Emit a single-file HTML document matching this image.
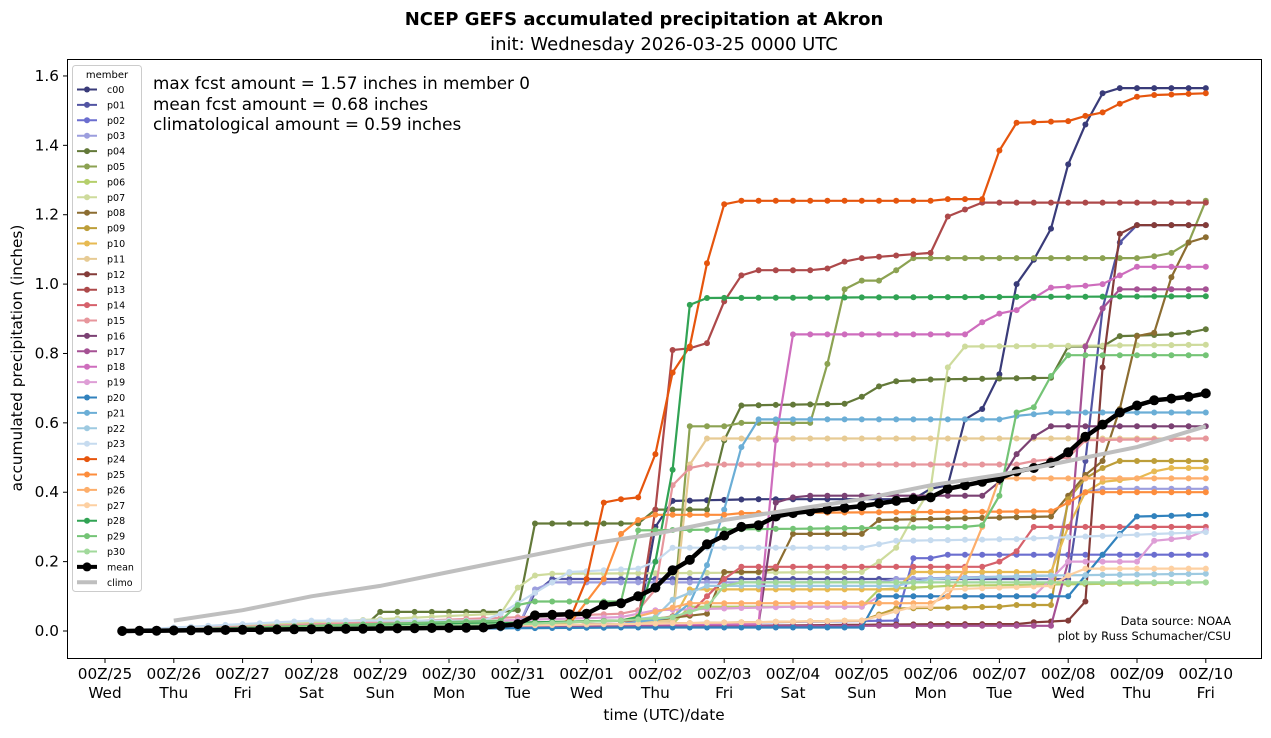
<!DOCTYPE html>
<html><head><meta charset="utf-8"><style>
html,body{margin:0;padding:0;background:#fff;}
svg text{font-family:"DejaVu Sans","Liberation Sans",sans-serif;fill:#000;}
</style></head><body>
<svg id="s" width="1271" height="733" viewBox="0 0 1271 733" xmlns="http://www.w3.org/2000/svg">
<rect width="1271" height="733" fill="#fff"/>
<text x="644" y="25" font-size="18" font-weight="bold" text-anchor="middle">NCEP GEFS accumulated precipitation at Akron</text>
<text x="664" y="50" font-size="18" text-anchor="middle">init: Wednesday 2026-03-25 0000 UTC</text>
<g id="plot"></g>
<rect x="67.5" y="59.5" width="1194" height="599" fill="none" stroke="#000" stroke-width="1"/>
<g id="ticks" font-size="15.3"></g>
<text x="664" y="720" font-size="15.3" text-anchor="middle">time (UTC)/date</text>
<text transform="translate(22,358) rotate(-90)" font-size="15.3" text-anchor="middle">accumulated precipitation (inches)</text>
<text x="153" y="89" font-size="16.8">max fcst amount = 1.57 inches in member 0</text>
<text x="153" y="110" font-size="16.8">mean fcst amount = 0.68 inches</text>
<text x="153" y="130" font-size="16.8">climatological amount = 0.59 inches</text>
<text x="1231" y="625" font-size="11.5" text-anchor="end">Data source: NOAA</text>
<text x="1231" y="640" font-size="11.5" text-anchor="end">plot by Russ Schumacher/CSU</text>
<g id="leg"></g>
</svg>
<script>
var NS="http://www.w3.org/2000/svg";
function el(p,t,a,txt){var e=document.createElementNS(NS,t);for(var k in a)e.setAttribute(k,a[k]);if(txt!==undefined)e.textContent=txt;p.appendChild(e);return e;}
function X(i){return 105+17.2*i;}
function Y(v){return 631-v*346.9;}
function expand(kp){var out=[];for(var i=1;i<=64;i++){var v;if(i<=kp[0][0])v=kp[0][1];else if(i>=kp[kp.length-1][0])v=kp[kp.length-1][1];else{for(var j=0;j<kp.length-1;j++){if(i>=kp[j][0]&&i<=kp[j+1][0]){var a=kp[j],b=kp[j+1];v=a[1]+(b[1]-a[1])*(i-a[0])/(b[0]-a[0]);break;}}}out.push([i,v]);}return out;}
var S=[
["c00","#393b79",[[1,0],[24,0.01],[31,0.02],[32,0.30],[33,0.375],[38,0.38],[47,0.38],[48,0.41],[49,0.42],[50,0.61],[51,0.64],[52,0.74],[53,1.0],[54,1.07],[55,1.16],[56,1.345],[57,1.46],[58,1.55],[59,1.565],[64,1.565]]],
["p01","#5254a3",[[1,0],[24,0.01],[25,0.11],[26,0.15],[56,0.15],[57,0.49],[58,0.93],[59,1.12],[60,1.17],[64,1.17]]],
["p02","#6b6ecf",[[1,0],[30,0.02],[46,0.03],[47,0.21],[48,0.21],[49,0.22],[64,0.22]]],
["p03","#9c9ede",[[1,0],[24,0.01],[25,0.12],[26,0.14],[45,0.14],[46,0.15],[55,0.16],[56,0.37],[57,0.40],[58,0.41],[64,0.41]]],
["p04","#637939",[[1,0],[8,0.01],[15,0.01],[16,0.055],[23,0.055],[24,0.06],[25,0.31],[31,0.31],[32,0.35],[35,0.35],[36,0.55],[37,0.65],[43,0.655],[44,0.675],[45,0.705],[46,0.72],[48,0.725],[55,0.73],[56,0.82],[58,0.82],[59,0.85],[62,0.855],[63,0.86],[64,0.87]]],
["p05","#8ca252",[[1,0],[30,0.03],[33,0.03],[34,0.59],[36,0.59],[37,0.6],[41,0.6],[42,0.77],[43,0.985],[44,1.01],[45,1.01],[46,1.04],[47,1.075],[60,1.075],[61,1.08],[62,1.09],[63,1.12],[64,1.24]]],
["p06","#b5cf6b",[[1,0],[30,0.02],[33,0.02],[34,0.07],[44,0.07],[45,0.12],[49,0.13],[64,0.14]]],
["p07","#cedb9c",[[1,0],[23,0.05],[24,0.125],[25,0.16],[26,0.165],[44,0.17],[45,0.2],[46,0.24],[47,0.33],[48,0.41],[49,0.76],[50,0.82],[64,0.825]]],
["p08","#8c6d31",[[1,0],[30,0.02],[35,0.05],[36,0.17],[38,0.17],[39,0.18],[40,0.28],[44,0.28],[45,0.32],[55,0.33],[56,0.39],[57,0.45],[58,0.49],[59,0.64],[60,0.85],[61,0.86],[62,1.02],[63,1.12],[64,1.135]]],
["p09","#bd9e39",[[1,0],[30,0.02],[44,0.03],[46,0.065],[52,0.07],[53,0.075],[55,0.075],[56,0.38],[57,0.44],[58,0.47],[59,0.49],[64,0.49]]],
["p10","#e7ba52",[[1,0],[30,0.02],[33,0.03],[34,0.12],[46,0.12],[47,0.17],[55,0.17],[56,0.3],[57,0.4],[58,0.43],[60,0.44],[61,0.46],[62,0.47],[64,0.47]]],
["p11","#e7cb94",[[1,0],[30,0.02],[33,0.03],[34,0.48],[35,0.555],[64,0.555]]],
["p12","#843c39",[[1,0],[49,0.02],[53,0.02],[54,0.025],[56,0.03],[57,0.085],[58,0.76],[59,1.145],[60,1.17],[64,1.17]]],
["p13","#ad494a",[[1,0],[31,0.03],[32,0.35],[33,0.81],[34,0.815],[35,0.83],[36,0.95],[37,1.025],[38,1.04],[41,1.04],[42,1.045],[43,1.065],[44,1.075],[48,1.09],[49,1.195],[50,1.215],[51,1.235],[64,1.235]]],
["p14","#d6616b",[[1,0],[30,0.02],[34,0.05],[36,0.15],[37,0.185],[51,0.185],[52,0.2],[53,0.23],[54,0.3],[64,0.3]]],
["p15","#e7969c",[[1,0],[30,0.05],[31,0.06],[32,0.12],[33,0.42],[34,0.47],[35,0.48],[53,0.48],[54,0.49],[56,0.5],[57,0.55],[64,0.555]]],
["p16","#7b4173",[[1,0],[38,0.02],[39,0.37],[40,0.385],[41,0.39],[51,0.39],[52,0.43],[53,0.51],[54,0.56],[55,0.59],[64,0.59]]],
["p17","#a55194",[[1,0],[30,0.015],[55,0.015],[56,0.2],[57,0.82],[58,0.93],[59,0.985],[64,0.985]]],
["p18","#ce6dbd",[[1,0],[30,0.02],[38,0.02],[39,0.55],[40,0.855],[50,0.855],[51,0.89],[52,0.915],[53,0.925],[54,0.96],[55,0.99],[57,0.995],[58,1.0],[59,1.025],[60,1.05],[64,1.05]]],
["p19","#de9ed6",[[1,0],[30,0.04],[32,0.06],[40,0.07],[44,0.07],[45,0.1],[54,0.1],[56,0.2],[60,0.2],[61,0.26],[63,0.27],[64,0.29]]],
["p20","#3182bd",[[1,0],[30,0.01],[44,0.01],[45,0.1],[56,0.1],[57,0.16],[58,0.22],[59,0.28],[60,0.33],[64,0.335]]],
["p21","#6baed6",[[1,0],[30,0.02],[33,0.04],[34,0.08],[35,0.19],[36,0.35],[37,0.53],[38,0.61],[52,0.61],[53,0.62],[55,0.63],[64,0.63]]],
["p22","#9ecae1",[[1,0],[30,0.03],[32,0.04],[33,0.09],[34,0.11],[35,0.13],[46,0.13],[48,0.15],[55,0.16],[64,0.165]]],
["p23","#c6dbef",[[1,0],[4,0.01],[12,0.03],[22,0.03],[23,0.05],[27,0.17],[31,0.18],[32,0.2],[33,0.24],[44,0.24],[45,0.25],[46,0.26],[53,0.265],[64,0.285]]],
["p24","#e6550d",[[1,0],[26,0.02],[27,0.03],[28,0.15],[29,0.37],[30,0.38],[31,0.385],[32,0.51],[33,0.745],[34,0.82],[35,1.06],[36,1.23],[37,1.24],[48,1.24],[49,1.245],[51,1.245],[52,1.385],[53,1.465],[56,1.47],[57,1.485],[58,1.495],[59,1.52],[60,1.54],[61,1.545],[64,1.55]]],
["p25","#fd8d3c",[[1,0],[27,0.02],[29,0.15],[30,0.28],[31,0.32],[32,0.335],[36,0.335],[37,0.34],[55,0.345],[56,0.37],[57,0.4],[64,0.4]]],
["p26","#fdae6b",[[1,0],[30,0.03],[34,0.08],[48,0.08],[49,0.1],[50,0.18],[51,0.3],[52,0.44],[64,0.44]]],
["p27","#fdd0a2",[[1,0],[30,0.02],[44,0.03],[47,0.07],[48,0.07],[49,0.12],[55,0.13],[56,0.16],[57,0.18],[64,0.18]]],
["p28","#31a354",[[1,0],[30,0.03],[31,0.04],[32,0.2],[33,0.465],[34,0.94],[35,0.96],[64,0.965]]],
["p29","#74c476",[[1,0],[23,0.03],[24,0.075],[25,0.085],[30,0.085],[31,0.29],[50,0.3],[51,0.305],[52,0.39],[53,0.63],[54,0.645],[55,0.735],[56,0.795],[64,0.795]]],
["p30","#a1d99b",[[1,0],[24,0.02],[30,0.03],[33,0.04],[35,0.07],[36,0.13],[37,0.14],[64,0.14]]]
];
var plot=document.getElementById("plot");
S.forEach(function(s){var pts=expand(s[2]);var d=pts.map(function(p,k){return (k?"L":"M")+X(p[0]).toFixed(1)+" "+Y(p[1]).toFixed(1);}).join("");
el(plot,"path",{d:d,fill:"none",stroke:s[1],"stroke-width":2.2});
pts.forEach(function(p){el(plot,"circle",{cx:X(p[0]).toFixed(1),cy:Y(p[1]).toFixed(1),r:3,fill:s[1]});});});
var mean=[[1,0],[22,0.01],[24,0.02],[25,0.045],[28,0.05],[29,0.075],[30,0.08],[31,0.10],[32,0.125],[33,0.175],[34,0.205],[35,0.25],[36,0.275],[37,0.30],[38,0.305],[39,0.33],[40,0.34],[42,0.35],[44,0.36],[46,0.375],[48,0.385],[49,0.41],[50,0.42],[52,0.44],[53,0.46],[54,0.47],[55,0.485],[56,0.515],[57,0.56],[58,0.595],[59,0.63],[60,0.65],[61,0.665],[62,0.67],[63,0.675],[64,0.685]];
var mp=expand(mean);
el(plot,"path",{d:mp.map(function(p,k){return (k?"L":"M")+X(p[0]).toFixed(1)+" "+Y(p[1]).toFixed(1);}).join(""),fill:"none",stroke:"#000","stroke-width":4.5});
mp.forEach(function(p){el(plot,"circle",{cx:X(p[0]).toFixed(1),cy:Y(p[1]).toFixed(1),r:5,fill:"#000"});});
var cl=[[4,0.03],[8,0.06],[12,0.10],[16,0.13],[20,0.17],[24,0.21],[28,0.25],[32,0.28],[36,0.32],[40,0.35],[44,0.38],[48,0.42],[52,0.45],[56,0.49],[60,0.53],[64,0.59]];
el(plot,"path",{d:cl.map(function(p,k){return (k?"L":"M")+X(p[0]).toFixed(1)+" "+Y(p[1]).toFixed(1);}).join(""),fill:"none",stroke:"#bfbfbf","stroke-width":4});
var tk=document.getElementById("ticks");
var days=["25","26","27","28","29","30","31","01","02","03","04","05","06","07","08","09","10"];
var wd=["Wed","Thu","Fri","Sat","Sun","Mon","Tue"];
for(var k=0;k<17;k++){var x=105+68.8*k;el(tk,"line",{x1:x,x2:x,y1:658.5,y2:663,stroke:"#000"});
el(tk,"text",{x:x,y:679,"text-anchor":"middle"},"00Z/"+days[k]);el(tk,"text",{x:x,y:698,"text-anchor":"middle"},wd[k%7]);}
for(var v=0;v<=8;v++){var y=Y(v*0.2);el(tk,"line",{x1:63,x2:67.5,y1:y,y2:y,stroke:"#000"});el(tk,"text",{x:59,y:y+5,"text-anchor":"end"},(v*0.2).toFixed(1));}
var lg=document.getElementById("leg");
el(lg,"rect",{x:72.5,y:65.5,width:69,height:526,rx:3,fill:"#fff","fill-opacity":0.85,stroke:"#ccc"});
el(lg,"text",{x:107,y:78,"font-size":10,"text-anchor":"middle"},"member");
var items=S.map(function(s){return [s[0],s[1],2,3];});items.push(["mean","#000",4,4.5]);items.push(["climo","#bfbfbf",4,0]);
items.forEach(function(it,k){var y=89.5+15.4*k;el(lg,"line",{x1:77,x2:97,y1:y,y2:y,stroke:it[1],"stroke-width":it[2]});if(it[3])el(lg,"circle",{cx:87,cy:y,r:it[3],fill:it[1]});el(lg,"text",{x:107,y:y+3.5,"font-size":9.5},it[0]);});
</script>
</body></html>
